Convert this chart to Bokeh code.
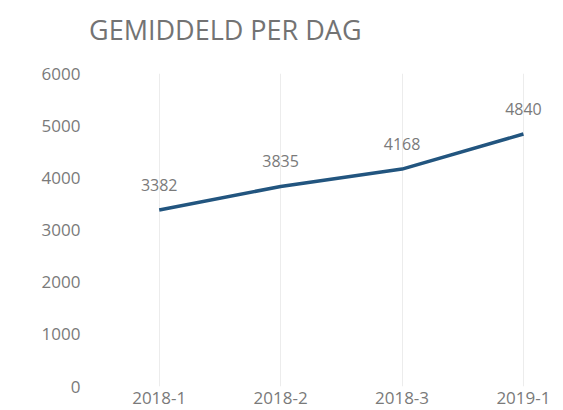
from bokeh.plotting import figure
from bokeh.models import Range1d, FixedTicker, ColumnDataSource, Div
from bokeh.layouts import column
from bokeh.core.properties import value
from bokeh.embed import file_html
from bokeh.resources import INLINE

categories = ["2018-1", "2018-2", "2018-3", "2019-1"]
values = [3382, 3835, 4168, 4840]
y_ticks = [0, 1000, 2000, 3000, 4000, 5000, 6000]
title_text = "GEMIDDELD PER DAG"

FONT = "Open Sans"
GREY = "#7a7a7a"
LINE = "#22557f"

xs = list(range(len(categories)))
src = ColumnDataSource(dict(x=xs, y=values, lbl=[str(v) for v in values]))

head = Div(
    text=('<div style="padding:9px 0 0 84px; font-family:\'Open Sans\'; '
          'font-size:27px; line-height:31px; color:#737373; white-space:nowrap;">'
          + title_text + '</div>'),
    width=563, height=50)

p = figure(width=563, height=350, output_backend="svg", toolbar_location=None,
           x_range=Range1d(-0.5, 3.33), y_range=Range1d(0, 6000),
           min_border_left=98, min_border_right=0, min_border_top=13,
           min_border_bottom=24)

p.outline_line_color = None
p.background_fill_color = "white"
p.border_fill_color = "white"

p.ygrid.grid_line_color = None
p.xgrid.grid_line_color = "#ececec"
p.xgrid.grid_line_width = 1

p.xaxis.ticker = FixedTicker(ticks=xs)
p.xaxis.major_label_overrides = {i: c for i, c in enumerate(categories)}
p.yaxis.ticker = FixedTicker(ticks=y_ticks)

for ax in (p.xaxis, p.yaxis):
    ax.axis_line_color = None
    ax.major_tick_line_color = None
    ax.minor_tick_line_color = None
    ax.major_tick_out = 0
    ax.major_tick_in = 0
    ax.major_label_text_font = FONT
    ax.major_label_text_font_size = "17px"
    ax.major_label_text_color = GREY
p.xaxis.major_label_standoff = 5
p.yaxis.major_label_standoff = 18

p.line("x", "y", source=src, line_color=LINE, line_width=3.5)
p.text("x", "y", text="lbl", source=src, text_font=value(FONT),
       text_font_size="16px", text_color=GREY, text_align="center",
       text_baseline="middle", y_offset=-25)

layout = column(head, p, spacing=0)
open("out.html", "w").write(file_html(layout, INLINE))
